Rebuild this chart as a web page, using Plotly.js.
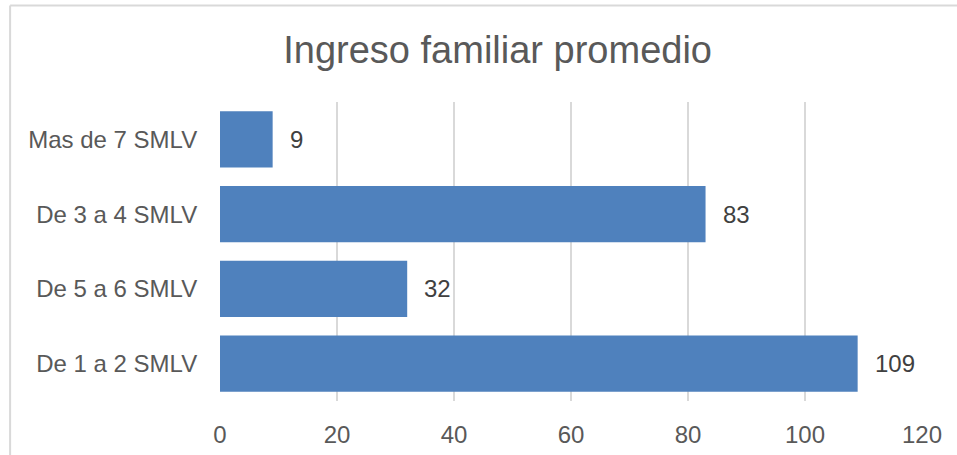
<!DOCTYPE html>
<html>
<head>
<meta charset="utf-8">
<script src="https://cdn.plot.ly/plotly-3.0.1.min.js"></script>
<style>
  html, body { margin: 0; padding: 0; background: #ffffff; }
  #chart { width: 957px; height: 455px; }
</style>
</head>
<body>
<div id="chart"></div>
<script>
// Data (bottom to top)
const categories = ["De 1 a 2 SMLV", "De 5 a 6 SMLV", "De 3 a 4 SMLV", "Mas de 7 SMLV"];
const values = [109, 32, 83, 9];
const xTicks = [0, 20, 40, 60, 80, 100, 120];
const chartTitle = "Ingreso familiar promedio";

const FONT = "Liberation Sans, Arial, sans-serif";

const trace = {
  type: "bar",
  orientation: "h",
  y: categories,
  x: values,
  marker: { color: "#4f81bd", line: { width: 0 } },
  hoverinfo: "none"
};

const annotations = categories.map((c, i) => ({
  x: values[i],
  y: c,
  xref: "x",
  yref: "y",
  text: String(values[i]),
  showarrow: false,
  xanchor: "left",
  yanchor: "middle",
  xshift: 15,
  font: { family: FONT, size: 24, color: "#404040" }
}));

const layout = {
  width: 957,
  height: 455,
  margin: { l: 220, r: 35, t: 102, b: 54, pad: 0 },
  paper_bgcolor: "#ffffff",
  plot_bgcolor: "#ffffff",
  showlegend: false,
  bargap: 0.245,
  title: {
    text: chartTitle,
    font: { family: FONT, size: 38, color: "#595959" },
    xref: "container",
    x: 0.52,
    xanchor: "center",
    yref: "container",
    y: 0.89,
    yanchor: "middle"
  },
  xaxis: {
    range: [0, 120],
    tickvals: xTicks,
    showgrid: true,
    gridcolor: "#d9d9d9",
    gridwidth: 1.5,
    zeroline: false,
    showline: false,
    ticks: "",
    ticklabelstandoff: 17,
    tickfont: { family: FONT, size: 24, color: "#595959" },
    fixedrange: true
  },
  yaxis: {
    type: "category",
    showgrid: false,
    zeroline: false,
    showline: false,
    ticks: "outside",
    ticklen: 17,
    tickcolor: "rgba(0,0,0,0)",
    tickfont: { family: FONT, size: 24, color: "#595959" },
    fixedrange: true
  },
  annotations: annotations,
  shapes: [
    { type: "line", xref: "paper", yref: "paper", x0: -0.299, x1: 1.06, y0: 1.3227, y1: 1.3227,
      line: { color: "#d9d9d9", width: 2 } },
    { type: "line", xref: "paper", yref: "paper", x0: -0.299, x1: -0.299, y0: 1.3227, y1: -0.19,
      line: { color: "#d9d9d9", width: 2 } }
  ]
};

Plotly.newPlot("chart", [trace], layout, { displayModeBar: false, staticPlot: true });
</script>
</body>
</html>
